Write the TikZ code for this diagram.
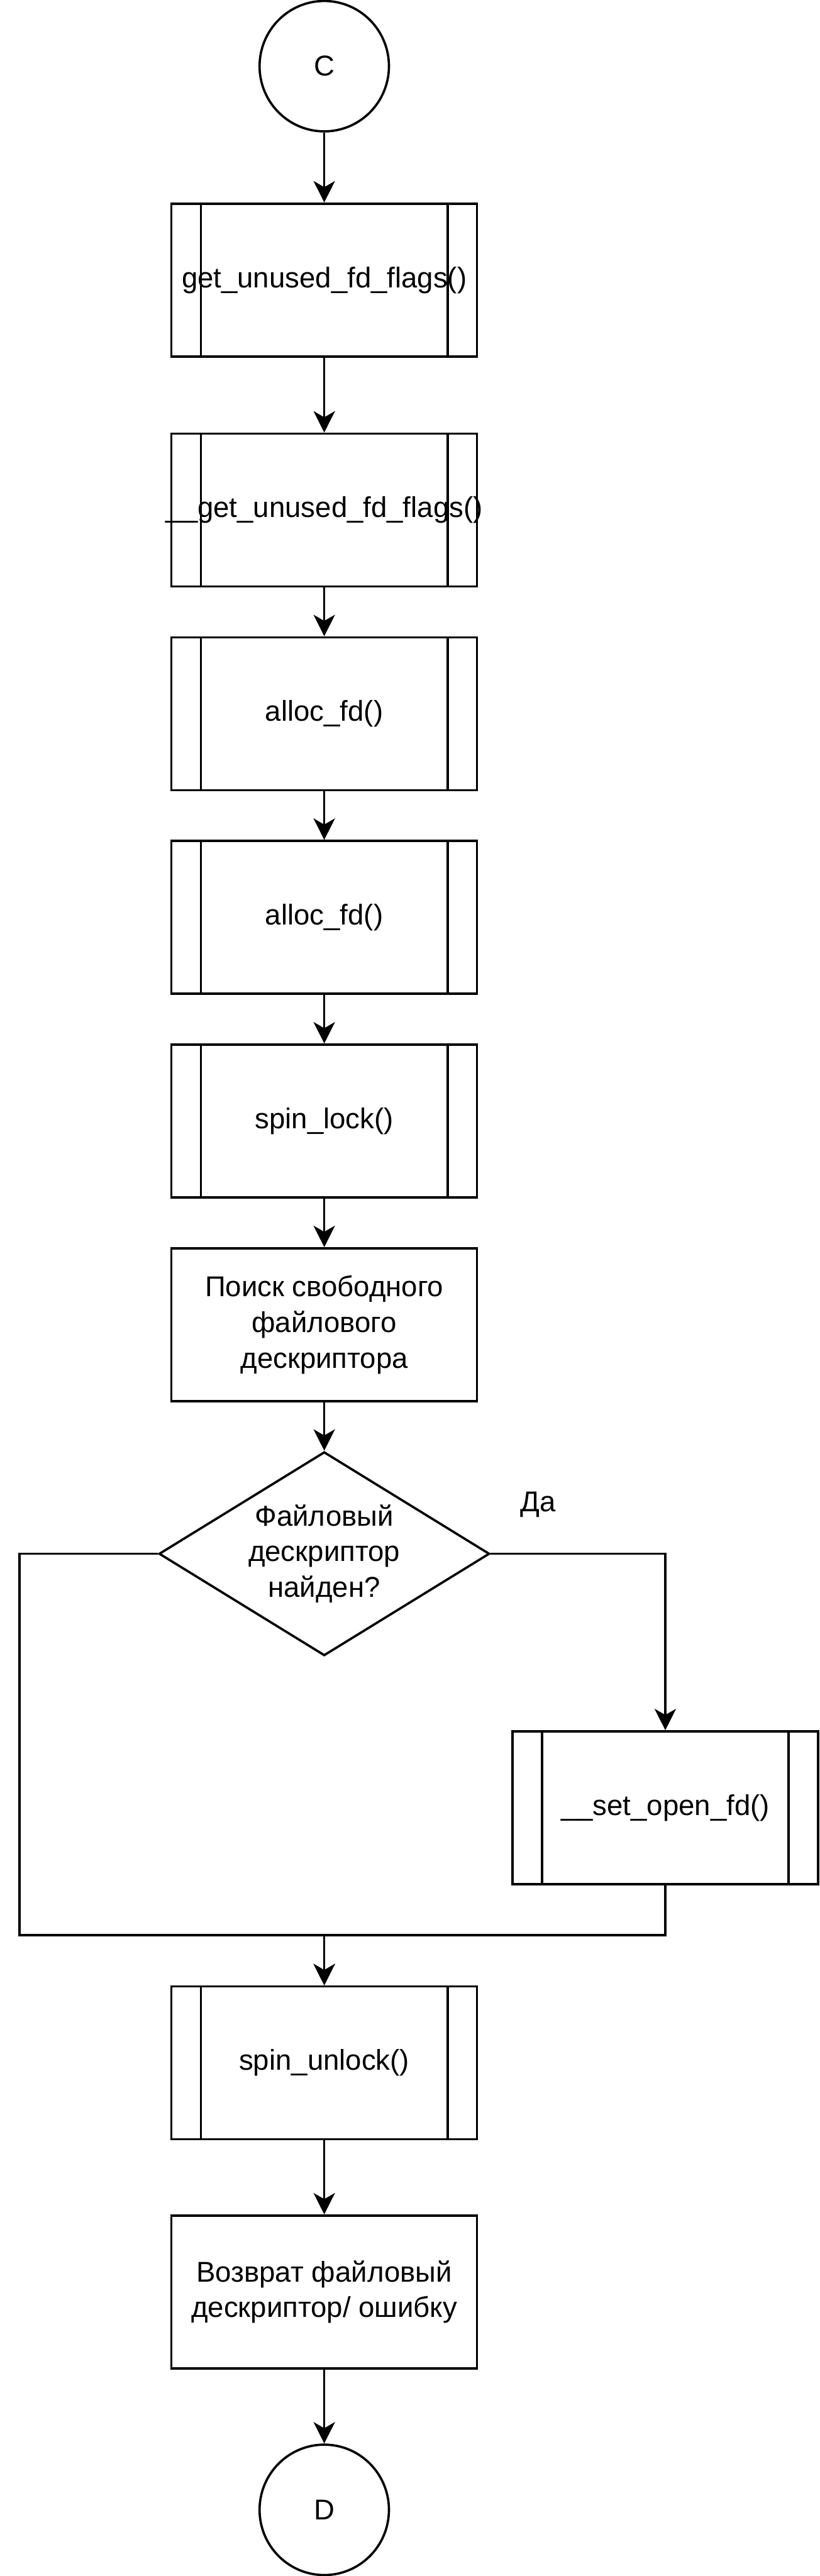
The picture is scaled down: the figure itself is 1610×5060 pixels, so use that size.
\documentclass[tikz,border=0pt]{standalone}
\usepackage{fontspec}
\setmainfont{Liberation Sans}
\usetikzlibrary{shapes.geometric,arrows.meta,calc}
\begin{document}
\begin{tikzpicture}[x=0.01cm,y=-0.01cm,
  every node/.style={font=\fontsize{16pt}{20pt}\selectfont},
  base/.style={draw, line width=0.045cm, inner sep=0pt, align=center},
  proc/.style={base, rectangle, minimum width=6cm, minimum height=3cm},
  conn/.style={base, ellipse, minimum width=2.54cm, minimum height=2.56cm},
  dec/.style={base, diamond, minimum width=6.49cm, minimum height=4cm, aspect=1.62},
  ln/.style={line width=0.045cm},
  arr/.style={ln, -{Stealth[length=0.42cm,width=0.42cm,inset=0.12cm]}}]
\useasboundingbox (0,0) rectangle (1610,5060);

\node[conn] (c) at (637,130) {C};
\node[proc] (f1) at (637,550) {get\_unused\_fd\_flags()};
\node[proc] (f2) at (637,1002) {\makebox[0pt]{\_\_get\_unused\_fd\_flags()}};
\node[proc] (f3) at (637,1402) {alloc\_fd()};
\node[proc] (f4) at (637,1802) {alloc\_fd()};
\node[proc] (f5) at (637,2202) {spin\_lock()};
\node[proc] (p6) at (637,2602) {Поиск свободного\\файлового\\дескриптора};
\node[dec] (dia) at (637,3052) {Файловый\\дескриптор\\найден?};
\node[proc] (so) at (1307,3551) {\_\_set\_open\_fd()};
\node[proc] (unl) at (637,4052) {spin\_unlock()};
\node[proc] (ret) at (637,4502) {Возврат файловый\\дескриптор/ ошибку};
\node[conn] (d) at (637,4930) {D};
\node (yes) at (1057,2955) {Да};

\foreach \n in {f1,f2,f3,f4,f5,so,unl}{
  \draw[ln] ([xshift=0.6cm]\n.north west) -- ([xshift=0.6cm]\n.south west);
  \draw[ln] ([xshift=-0.6cm]\n.north east) -- ([xshift=-0.6cm]\n.south east);
}

\coordinate (lft) at (38,3801);
\coordinate (jn) at (637,3801);

\draw[arr] (c) -- (f1);
\draw[arr] (f1) -- (f2);
\draw[arr] (f2) -- (f3);
\draw[arr] (f3) -- (f4);
\draw[arr] (f4) -- (f5);
\draw[arr] (f5) -- (p6);
\draw[arr] (p6) -- (dia);
\draw[arr] (dia.east) -| (so.north);
\draw[arr] (dia.west) -| (lft) -- (jn) -- (unl.north);
\draw[arr] (so.south) |- (jn) -- (unl.north);
\draw[arr] (unl) -- (ret);
\draw[arr] (ret) -- (d);
\end{tikzpicture}
\end{document}
